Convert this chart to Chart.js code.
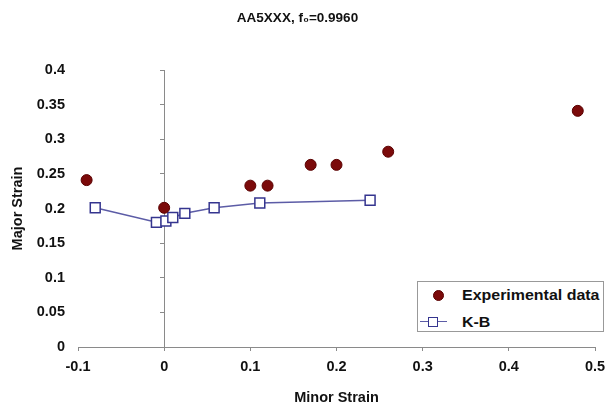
<!DOCTYPE html>
<html lang="en">
<head>
<meta charset="UTF-8">
<title>AA5XXX forming limit</title>
<script src="https://cdn.jsdelivr.net/npm/chart.js"></script>
<style>
  body { margin: 0; background: #fff; }
  #wrap { position: relative; width: 608px; height: 415px; }
  #legend {
    position: absolute; left: 417px; top: 281px; width: 185px; height: 49px;
    border: 1px solid #999; background: #fff;
    font: bold 14px "Liberation Sans", Arial, sans-serif; color: #111;
  }
  .item { position: absolute; left: 0; width: 100%; height: 20px; line-height: 20px; }
  .item .label { position: absolute; left: 44px; top: 0; transform: scaleX(1.14); transform-origin: left center; white-space: nowrap; }
  .dot { position: absolute; left: 15px; top: 5px; width: 11px; height: 11px; border-radius: 50%;
         background: #7b0a0a; box-sizing: border-box; border: 1px solid #5a0000; }
  .seg { position: absolute; left: 2px; top: 9px; width: 27px; height: 0; border-top: 1.5px solid #5c5ca6; }
  .sq { position: absolute; left: 10px; top: 5px; width: 10px; height: 10px; box-sizing: border-box;
        background: #fff; border: 1.5px solid #35358f; }
</style>
</head>
<body>
<div id="wrap">
  <canvas id="fld" width="608" height="415"></canvas>
  <div id="legend">
    <div class="item" style="top:3px"><span class="dot"></span><span class="label">Experimental data</span></div>
    <div class="item" style="top:30px"><span class="seg"></span><span class="sq"></span><span class="label">K-B</span></div>
  </div>
</div>
<script>
  // measured limit strains
  const expMinor = [-0.09, 0, 0.10, 0.12, 0.17, 0.20, 0.26, 0.48];
  const expMajor = [0.241, 0.201, 0.233, 0.233, 0.263, 0.263, 0.282, 0.341];

  // K-B model prediction
  const kbMinor = [-0.08, -0.009, 0.002, 0.01, 0.024, 0.058, 0.111, 0.239];
  const kbMajor = [0.201, 0.180, 0.182, 0.187, 0.193, 0.201, 0.208, 0.212];

  // axis ticks
  const xTickValues = [-0.1, 0, 0.1, 0.2, 0.3, 0.4, 0.5];
  const xTickLabels = ['-0.1', '0', '0.1', '0.2', '0.3', '0.4', '0.5'];
  const yTickValues = [0, 0.05, 0.1, 0.15, 0.2, 0.25, 0.3, 0.35, 0.4];
  const yTickLabels = ['0', '0.05', '0.1', '0.15', '0.2', '0.25', '0.3', '0.35', '0.4'];

  const toPoints = (xs, ys) => xs.map((x, i) => ({ x: x, y: ys[i] }));
  const setTicks = values => scale => { scale.ticks = values.map(v => ({ value: v })); };
  const labelFor = (values, labels) => v => {
    const i = values.findIndex(t => Math.abs(t - v) < 1e-9);
    return i < 0 ? '' : labels[i];
  };

  const FONT = '"Liberation Sans", Arial, sans-serif';
  const AXIS = '#8a8a8a';

  new Chart(document.getElementById('fld'), {
    type: 'scatter',
    data: {
      datasets: [
        {
          label: 'Experimental data',
          data: toPoints(expMinor, expMajor),
          pointStyle: 'circle',
          pointRadius: 5.5,
          pointBackgroundColor: '#7b0a0a',
          pointBorderColor: '#5a0000',
          pointBorderWidth: 1,
          showLine: false
        },
        {
          label: 'K-B',
          data: toPoints(kbMinor, kbMajor),
          showLine: true,
          borderColor: '#5c5ca6',
          borderWidth: 1.5,
          pointStyle: 'rect',
          pointRadius: 7,
          pointBackgroundColor: '#fff',
          pointBorderColor: '#35358f',
          pointBorderWidth: 1.5
        }
      ]
    },
    options: {
      responsive: false,
      animation: false,
      layout: { padding: { left: 0, right: 13, top: 0, bottom: 0 } },
      plugins: {
        legend: { display: false },
        tooltip: { enabled: false },
        title: {
          display: true,
          text: 'AA5XXX, f\u2080=0.9960',
          color: '#111',
          font: { family: FONT, size: 13.5, weight: 'bold' },
          padding: { top: 10, bottom: 43.8 }
        }
      },
      scales: {
        x: {
          type: 'linear',
          min: -0.1,
          max: 0.5,
          afterBuildTicks: setTicks(xTickValues),
          // fixed band height; end labels may overhang the plot edges
          afterFit: s => { s.height = 68; s.paddingLeft = 0; s.paddingRight = 0; },
          grid: { display: true, drawOnChartArea: false, drawTicks: true, tickLength: 4, color: AXIS },
          border: { display: true, color: AXIS, width: 1 },
          ticks: {
            color: '#111',
            padding: 7,
            maxRotation: 0,
            font: { family: FONT, size: 14.5, weight: 'bold' },
            callback: labelFor(xTickValues, xTickLabels)
          },
          title: {
            display: true,
            text: 'Minor Strain',
            color: '#111',
            font: { family: FONT, size: 14.5, weight: 'bold' },
            padding: { top: 0, bottom: 8 }
          }
        },
        y: {
          type: 'linear',
          position: 'left',
          min: 0,
          max: 0.4,
          afterBuildTicks: setTicks(yTickValues),
          afterFit: s => { s.width = 78; },
          grid: { display: false, drawTicks: false },
          border: { display: false },
          ticks: {
            color: '#111',
            padding: 13,
            font: { family: FONT, size: 14.5, weight: 'bold' },
            callback: labelFor(yTickValues, yTickLabels)
          },
          title: {
            display: true,
            text: 'Major Strain',
            color: '#111',
            font: { family: FONT, size: 14.5, weight: 'bold' },
            padding: { top: 9, bottom: 0 }
          }
        },
        // vertical axis line crossing at minor strain = 0
        y2: {
          type: 'linear',
          axis: 'y',
          position: { x: 0 },
          min: 0,
          max: 0.4,
          afterBuildTicks: setTicks(yTickValues),
          grid: { display: true, drawOnChartArea: false, drawTicks: true, tickLength: 4, color: AXIS },
          border: { display: true, color: AXIS, width: 1 },
          ticks: { display: false }
        }
      }
    }
  });
</script>
</body>
</html>
